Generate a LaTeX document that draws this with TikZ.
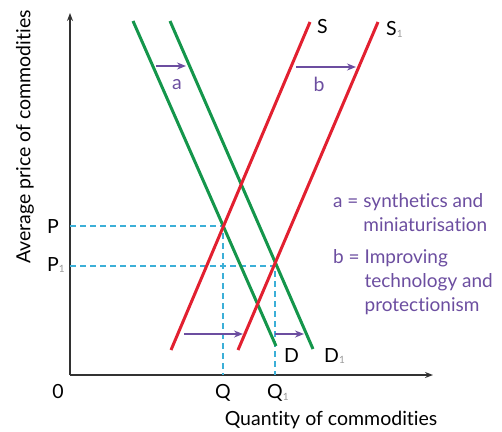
\documentclass[tikz,border=0pt]{standalone}
\usepackage{fontspec}
\setmainfont{Lato}[Ligatures=NoCommon]
\usetikzlibrary{arrows.meta}
\definecolor{dgreen}{RGB}{20,150,75}
\definecolor{dred}{RGB}{226,32,48}
\definecolor{dpurple}{RGB}{108,78,160}
\definecolor{dblue}{RGB}{60,175,215}
\definecolor{daxis}{RGB}{50,50,50}
\newcommand{\subone}{\raisebox{-0.2ex}{\fontsize{10}{10}\selectfont\color{black!40}1}}
\tikzset{
  demand/.style={draw=dgreen,line width=3pt},
  supply/.style={draw=dred,line width=3pt},
  guide/.style={draw=dblue,line width=1.5pt,dash pattern=on 6pt off 4pt},
  shiftarrow/.style={draw=dpurple,line width=2pt,-{Stealth[length=9pt,width=7pt]}},
  axis/.style={draw=daxis,line width=1.8pt,-{Stealth[length=8pt,width=6pt]}},
  lbl/.style={font=\fontsize{19.5}{19.5}\selectfont,inner sep=0pt},
  plbl/.style={lbl,text=dpurple},
  legend/.style={font=\fontsize{19}{23.5}\selectfont,text=dpurple,inner sep=0pt,anchor=base west}
}
\begin{document}
\begin{tikzpicture}[x=1pt,y=-1pt]
\useasboundingbox (0,0) rectangle (502,431);
% axes
\coordinate (O) at (70,375);
\coordinate (Ytop) at (70,13);
\coordinate (Xend) at (433,375);
\draw[axis] (O) -- (Ytop);
\draw[axis] (O) -- (Xend);
% equilibrium points
\coordinate (E) at (223,226);
\coordinate (E1) at (275,266);
\coordinate (Py) at (70,226);
\coordinate (P1y) at (70,266);
\coordinate (Qx) at (223,375);
\coordinate (Q1x) at (275,375);
\draw[guide] (Py) -- (E) -- (Qx);
\draw[guide] (P1y) -- (E1) -- (Q1x);
% curves
\coordinate (Dt) at (133,21);
\coordinate (Db) at (276,346);
\coordinate (D1t) at (170,21);
\coordinate (D1b) at (313,349);
\coordinate (St) at (310,22);
\coordinate (Sb) at (171,350);
\coordinate (S1t) at (378,22);
\coordinate (S1b) at (238,350);
\draw[demand] (Dt) -- (Db);
\draw[demand] (D1t) -- (D1b);
\draw[supply] (St) -- (Sb);
\draw[supply] (S1t) -- (S1b);
% shift arrows
\coordinate (a0) at (156,66);
\coordinate (a1) at (186,66);
\coordinate (b0) at (296,67);
\coordinate (b1) at (356,67);
\coordinate (c0) at (184,334);
\coordinate (c1) at (243,334);
\coordinate (d0) at (275,334);
\coordinate (d1) at (304,334);
\draw[shiftarrow] (a0) -- (a1);
\draw[shiftarrow] (b0) -- (b1);
\draw[shiftarrow] (c0) -- (c1);
\draw[shiftarrow] (d0) -- (d1);
\node[plbl] (la) at (177,85) {a};
\node[plbl] (lb) at (319,84) {b};
% labels
\node[lbl,anchor=west] (lS) at (317,27) {S};
\node[lbl,anchor=west] (lS1) at (386,29) {S\subone};
\node[lbl,anchor=west] (lD) at (284,356) {D};
\node[lbl,anchor=west] (lD1) at (324,356) {D\subone};
\node[lbl] (l0) at (58,392) {0};
\node[lbl] (lQ) at (223,393) {Q};
\node[lbl,anchor=west] (lQ1) at (267,393) {Q\subone};
\node[lbl,anchor=west] (lP) at (47,227) {P};
\node[lbl,anchor=west] (lP1) at (47,265) {P\subone};
\node[lbl] (xl) at (331,420) {Quantity of commodities};
\node[lbl,rotate=90] (yl) at (25,137) {Average price of commodities};
% legend
\node[legend] (leg1) at (333,207) {a = synthetics and};
\node[legend] (leg2) at (333,231) {\hphantom{a = }miniaturisation};
\node[legend] (leg3) at (333,263) {b = Improving};
\node[legend] (leg4) at (333,287) {\hphantom{b = }technology and};
\node[legend] (leg5) at (333,311) {\hphantom{b = }protectionism};
\end{tikzpicture}
\end{document}
